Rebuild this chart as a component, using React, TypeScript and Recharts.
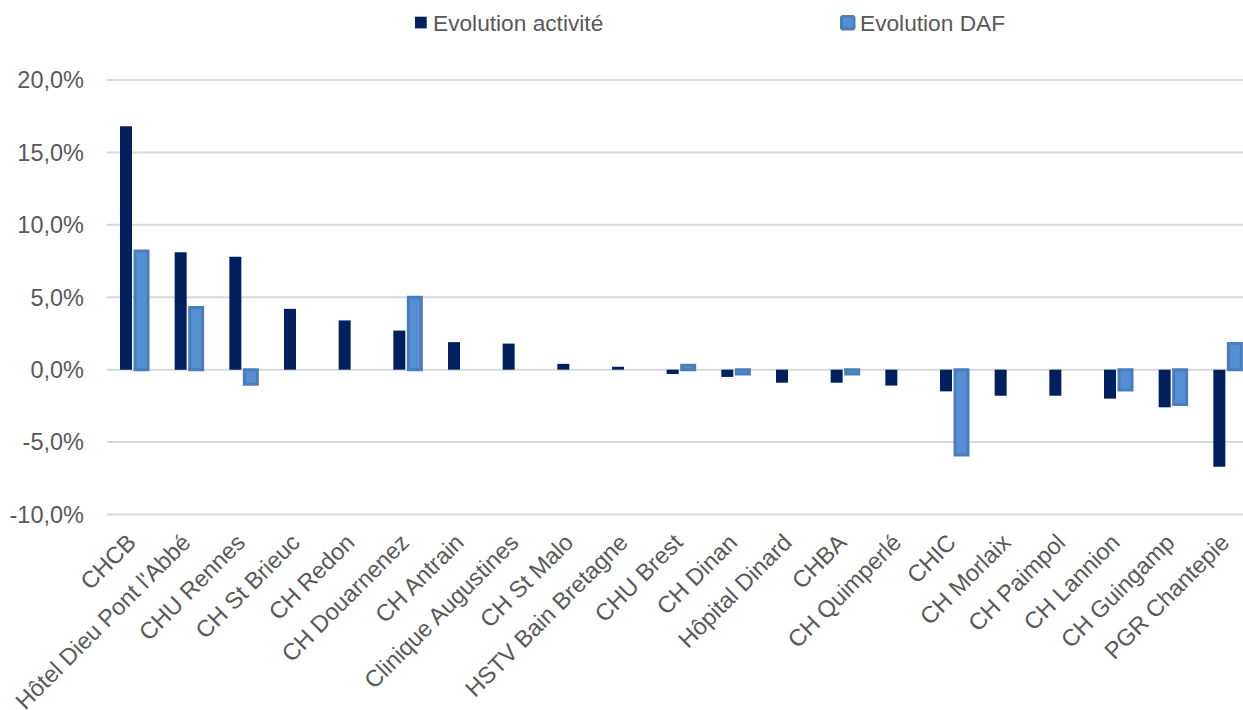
import React from "react";
import { BarChart, Bar, XAxis, YAxis, CartesianGrid } from "recharts";

const categories = [
  "CHCB",
  "Hôtel Dieu Pont l'Abbé",
  "CHU Rennes",
  "CH St Brieuc",
  "CH Redon",
  "CH Douarnenez",
  "CH Antrain",
  "Clinique Augustines",
  "CH St Malo",
  "HSTV Bain Bretagne",
  "CHU Brest",
  "CH Dinan",
  "Hôpital Dinard",
  "CHBA",
  "CH Quimperlé",
  "CHIC",
  "CH Morlaix",
  "CH Paimpol",
  "CH Lannion",
  "CH Guingamp",
  "PGR Chantepie",
];

const evolutionActivite = [
  16.8, 8.1, 7.8, 4.2, 3.4, 2.7, 1.9, 1.8, 0.4, 0.2, -0.3, -0.5, -0.9, -0.9, -1.1, -1.5, -1.8, -1.8, -2.0, -2.6, -6.7,
];

const evolutionDAF = [
  8.2, 4.3, -1.0, 0, 0, 5.0, 0, 0, 0, 0, 0.3, -0.3, 0, -0.3, 0, -5.9, 0, 0, -1.4, -2.4, 1.8,
];

const yTicks = [-10, -5, 0, 5, 10, 15, 20];

const seriesNames = ["Evolution activité", "Evolution DAF"];

const data = categories.map((name, i) => ({
  name,
  activite: evolutionActivite[i],
  daf: evolutionDAF[i],
}));

const FONT = '"Liberation Sans", Arial, sans-serif';
const TEXT = "#595959";
const DARK = "#002060";
const LIGHT = "#558ed5";
const LIGHT_BORDER = "#4a7ebb";

const fmt = (v: number) => v.toFixed(1).replace(".", ",") + "%";

const XTick = (props: any) => {
  const { x, y, payload } = props;
  const tx = x + 3;
  const ty = y + 29.5;
  return (
    <text
      x={tx}
      y={ty}
      transform={`rotate(-45, ${tx}, ${ty})`}
      textAnchor="end"
      fill={TEXT}
      fontSize={23.5}
      fontFamily={FONT}
    >
      {payload.value}
    </text>
  );
};

export default function App() {
  return (
    <div
      style={{
        position: "fixed",
        left: 0,
        top: 0,
        width: 1243,
        height: 710,
        overflow: "hidden",
        background: "#fff",
      }}
    >
      <div style={{ position: "absolute", left: 0, top: 0 }}>
        <BarChart
          width={1260}
          height={710}
          data={data}
          margin={{ top: 80, right: 5, bottom: 0, left: 0 }}
          barGap={3}
        >
          <CartesianGrid vertical={false} stroke="#d9d9d9" strokeWidth={2} />
          <XAxis
            dataKey="name"
            axisLine={false}
            tickLine={false}
            tickSize={0}
            tickMargin={0}
            height={195.5}
            interval={0}
            tick={<XTick />}
          />
          <YAxis
            width={107}
            domain={[-10, 20]}
            ticks={yTicks}
            axisLine={false}
            tickLine={false}
            tickSize={0}
            tickMargin={23}
            tickFormatter={fmt}
            tick={{ fill: TEXT, fontSize: 23.5, fontFamily: FONT }}
          />
          <Bar
            dataKey="activite"
            name={seriesNames[0]}
            fill={DARK}
            barSize={12}
            isAnimationActive={false}
          />
          <Bar
            dataKey="daf"
            name={seriesNames[1]}
            fill={LIGHT}
            stroke={LIGHT_BORDER}
            strokeWidth={3}
            barSize={13}
            isAnimationActive={false}
          />
        </BarChart>
      </div>
      <svg
        width={1243}
        height={50}
        style={{ position: "absolute", left: 0, top: 0 }}
      >
        <rect x={415} y={16.7} width={11.7} height={11.7} fill={DARK} />
        <text
          x={433}
          y={30.7}
          fontSize={22.7}
          fontFamily={FONT}
          fill={TEXT}
        >
          {seriesNames[0]}
        </text>
        <rect
          x={841.5}
          y={16.5}
          width={12.5}
          height={12.5}
          rx={1.5}
          fill={LIGHT}
          stroke={LIGHT_BORDER}
          strokeWidth={3}
        />
        <text
          x={860}
          y={30.7}
          fontSize={22.7}
          fontFamily={FONT}
          fill={TEXT}
        >
          {seriesNames[1]}
        </text>
      </svg>
    </div>
  );
}
